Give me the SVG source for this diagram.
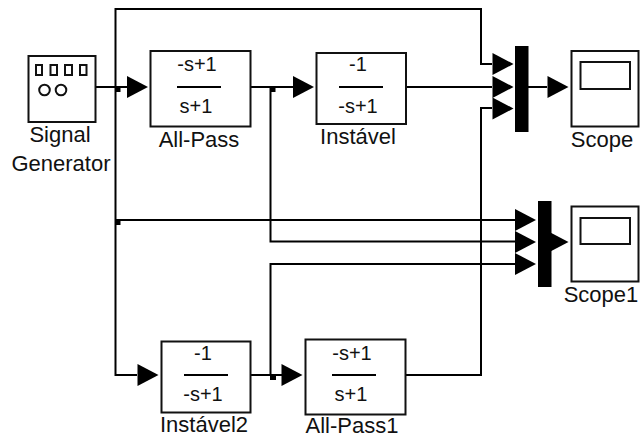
<svg xmlns="http://www.w3.org/2000/svg" width="640" height="438" viewBox="0 0 640 438">
<style>
.b{fill:#fff;stroke:#111;stroke-width:2}
.w{fill:none;stroke:#000;stroke-width:2}
.h{fill:#000;stroke:none}
.t{font-family:"Liberation Sans",Arial,sans-serif;font-size:22px;fill:#111;text-anchor:middle}
.f{font-family:"Liberation Sans",Arial,sans-serif;font-size:20px;fill:#111;text-anchor:middle}
</style>
<defs>
<polygon id="a" class="h" points="-21,-11 0,0 -21,11"/>
</defs>
<rect width="640" height="438" fill="#fff"/>
<g id="connectors">
<path class="w" d="M94 87H128"/>
<path class="w" d="M115.500 87V9H481V64H492"/>
<path class="w" d="M115.500 87V375H137"/>
<path class="w" d="M115.500 220H515"/>
<path class="w" d="M249 87H294"/>
<path class="w" d="M270.500 87V241.500H515"/>
<path class="w" d="M405 87H492"/>
<path class="w" d="M528 87H547"/>
<path class="w" d="M249 375H283"/>
<path class="w" d="M270.500 375V264H515"/>
<path class="w" d="M404 375H481V108H492"/>
<path class="w" d="M551 242H553"/>
<rect class="h" x="115.500" y="86" width="5" height="6"/>
<rect class="h" x="270.500" y="86" width="5" height="6"/>
<rect class="h" x="115.500" y="220" width="5" height="5"/>
<rect class="h" x="270" y="375" width="6" height="5"/>
<use href="#a" x="148" y="87"/>
<use href="#a" x="314" y="87"/>
<use href="#a" x="513.500" y="64"/>
<use href="#a" x="513.500" y="87"/>
<use href="#a" x="513.500" y="108.500"/>
<use href="#a" x="568.500" y="87"/>
<use href="#a" x="536" y="220"/>
<use href="#a" x="536" y="242"/>
<use href="#a" x="536" y="264"/>
<use href="#a" x="568.500" y="242"/>
<use href="#a" x="158.500" y="375"/>
<use href="#a" x="302.500" y="375"/>
</g>
<g id="signal-generator">
<rect class="b" x="28.500" y="56" width="67" height="66"/>
<g fill="none" stroke="#111" stroke-width="2">
<rect x="36" y="65" width="6" height="10"/><rect x="50.500" y="65" width="6.500" height="10"/><rect x="65" y="65" width="7" height="10"/><rect x="80" y="65" width="6.500" height="10"/>
<circle cx="44.500" cy="90" r="5.300"/><circle cx="61" cy="90" r="5.300"/>
</g>
<text class="t" x="60" y="142">Signal</text>
<text class="t" x="61" y="171">Generator</text>
</g>
<g id="all-pass">
<rect class="b" x="150.500" y="51" width="100" height="75.500"/>
<path class="w" d="M177 87H221"/>
<text class="f" x="197" y="71">-s+1</text>
<text class="f" x="196" y="113">s+1</text>
<text class="t" x="199" y="147">All-Pass</text>
</g>
<g id="instavel">
<rect class="b" x="316.500" y="53" width="89.500" height="71"/>
<path class="w" d="M339 87H383"/>
<text class="f" x="358" y="71">-1</text>
<text class="f" x="358" y="113">-s+1</text>
<text class="t" x="358" y="144">Instável</text>
</g>
<g id="mux1"><rect class="h" x="515" y="46" width="13.500" height="86"/></g>
<g id="scope">
<rect class="b" x="571.500" y="51" width="67" height="75.500"/>
<rect class="b" x="580.500" y="62" width="49.500" height="27"/>
<text class="t" x="602" y="147">Scope</text>
</g>
<g id="mux2"><rect class="h" x="538" y="201" width="13.500" height="86"/></g>
<g id="scope1">
<rect class="b" x="571.500" y="206.500" width="67" height="75"/>
<rect class="b" x="580.500" y="218" width="49.500" height="26"/>
<text class="t" x="601" y="302">Scope1</text>
</g>
<g id="instavel2">
<rect class="b" x="161.500" y="341.500" width="89" height="71"/>
<path class="w" d="M184 375H228"/>
<text class="f" x="203" y="360">-1</text>
<text class="f" x="203" y="401">-s+1</text>
<text class="t" x="204" y="432">Instável2</text>
</g>
<g id="all-pass1">
<rect class="b" x="305.500" y="339.500" width="100" height="75"/>
<path class="w" d="M332 375H376"/>
<text class="f" x="352" y="360">-s+1</text>
<text class="f" x="351" y="401">s+1</text>
<text class="t" x="352" y="433">All-Pass1</text>
</g>
</svg>
